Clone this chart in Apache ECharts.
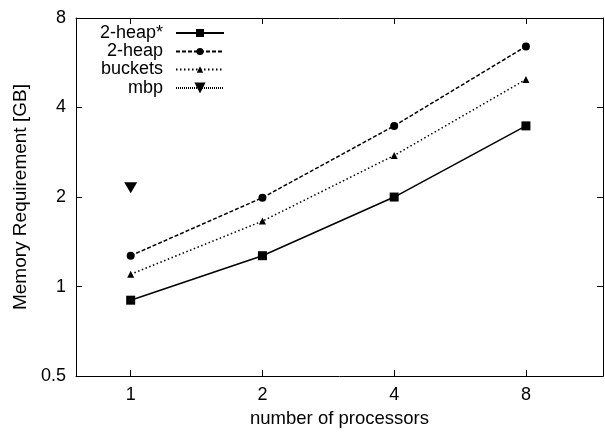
<!DOCTYPE html>
<html>
<head>
<meta charset="utf-8">
<script src="https://cdn.jsdelivr.net/npm/echarts@6/dist/echarts.min.js"></script>
<style>html,body{margin:0;padding:0;background:#fff}#c{width:605px;height:433px}</style>
</head>
<body>
<div id="c"></div>
<script>
// ---- data ----
const procs = [1, 2, 4, 8];
const heapStar = [0.90, 1.27, 2.0, 3.47];
const heap2 = [1.27, 1.99, 3.47, 6.42];
const buckets = [1.10, 1.66, 2.76, 4.97];
const mbpProcs = [1];
const mbp = [2.15];
const xTickLabels = [1, 2, 4, 8];
const yTickLabels = [0.5, 1, 2, 4, 8];
const xRange = [0.75, 12];
const yRange = [0.5, 8];

const FONT = 'Liberation Sans';
const FS = 18;
const L2 = Math.log2;
const pts = (xs, ys) => xs.map((x, i) => [L2(x), L2(ys[i])]);
const fmt = v => String(+Math.pow(2, v).toFixed(4));
const xTickVals = xTickLabels.map(L2);
const yTickVals = yTickLabels.map(L2);

const chart = echarts.init(document.getElementById('c'), null, {renderer: 'canvas'});

const baseX = {
  type: 'value', min: L2(xRange[0]), max: L2(xRange[1]),
  axisLine: {show: true, onZero: false, lineStyle: {color: '#000', width: 1}},
  splitLine: {show: false},
  axisTick: {show: true, inside: true, length: 6, customValues: xTickVals, lineStyle: {color: '#000'}},
};
const baseY = {
  type: 'value', min: L2(yRange[0]), max: L2(yRange[1]),
  axisLine: {show: true, onZero: false, lineStyle: {color: '#000', width: 1}},
  splitLine: {show: false},
  axisTick: {show: true, inside: true, length: 6, customValues: yTickVals, lineStyle: {color: '#000'}},
};

function legendFor(name, center, h) {
  return {
    data: [name], right: 380, top: center - 10, orient: 'vertical', align: 'right',
    padding: 0, itemWidth: 48, itemHeight: h, itemGap: 0,
    textStyle: {fontFamily: FONT, fontSize: FS, color: '#000', lineHeight: 20, padding: [0, 8, 0, 0]},
    selectedMode: false
  };
}

chart.setOption({
  animation: false,
  backgroundColor: '#fff',
  grid: {left: 76, right: 2, top: 18, bottom: 54, containLabel: false},
  legend: [
    legendFor('2-heap*', 33, 10),
    legendFor('2-heap', 51.5, 9),
    legendFor('buckets', 69.5, 8),
    legendFor('mbp', 88, 14)
  ],
  xAxis: [
    Object.assign({}, baseX, {
      position: 'bottom',
      name: 'number of processors', nameLocation: 'middle', nameGap: 29,
      nameTextStyle: {fontFamily: FONT, fontSize: 18.5, color: '#000'},
      axisLabel: {show: true, customValues: xTickVals, formatter: fmt, margin: 10,
        fontFamily: FONT, fontSize: FS, color: '#000'}
    }),
    Object.assign({}, baseX, {position: 'top', axisLabel: {show: false}})
  ],
  yAxis: [
    Object.assign({}, baseY, {
      position: 'left',
      name: 'Memory Requirement [GB]', nameLocation: 'middle', nameGap: 45,
      nameTextStyle: {fontFamily: FONT, fontSize: 19, color: '#000'},
      axisLabel: {show: true, customValues: yTickVals, formatter: fmt, margin: 10,
        fontFamily: FONT, fontSize: FS, color: '#000'}
    }),
    Object.assign({}, baseY, {position: 'right', axisLabel: {show: false}})
  ],
  series: [
    {name: '2-heap*', type: 'line', data: pts(procs, heapStar), symbol: 'rect', symbolSize: 9,
      lineStyle: {color: '#000', width: 1.5, type: 'solid'}, itemStyle: {color: '#000'}},
    {name: '2-heap', type: 'line', data: pts(procs, heap2), symbol: 'circle', symbolSize: 8,
      lineStyle: {color: '#000', width: 1.5, type: [4, 2]}, itemStyle: {color: '#000'}},
    {name: 'buckets', type: 'line', data: pts(procs, buckets), symbol: 'triangle', symbolSize: 7,
      lineStyle: {color: '#000', width: 1.5, type: [1.5, 2.5]}, itemStyle: {color: '#000'}},
    {name: 'mbp', type: 'line', data: pts(mbpProcs, mbp), symbol: 'triangle', symbolRotate: 180, symbolSize: [13, 11],
      lineStyle: {color: '#000', width: 1, type: [1, 1]}, itemStyle: {color: '#000'}}
  ]
});
</script>
</body>
</html>
